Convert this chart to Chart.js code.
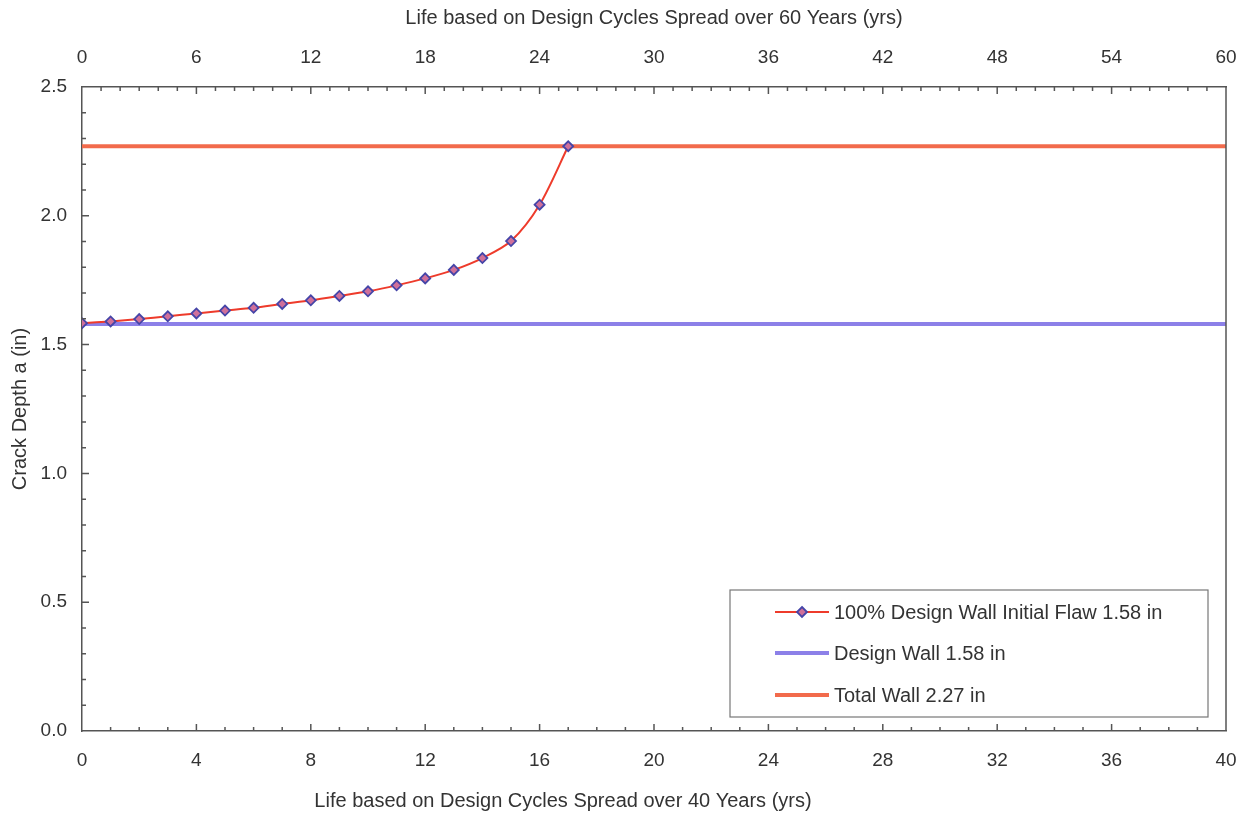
<!DOCTYPE html>
<html>
<head>
<meta charset="utf-8">
<script src="https://cdn.jsdelivr.net/npm/chart.js@4/dist/chart.umd.min.js"></script>
<style>
  body { margin: 0; background: #fff; }
  #wrap { width: 1252px; height: 816px; }
</style>
</head>
<body>
<div id="wrap"><canvas id="chart" width="1252" height="816"></canvas></div>
<script>
// datos
const years40 = [0, 1, 2, 3, 4, 5, 6, 7, 8, 9, 10, 11, 12, 13, 14, 15, 16, 17];
const crackDepth = [1.583, 1.590, 1.599, 1.610, 1.621, 1.632, 1.643, 1.658, 1.672, 1.689,
                    1.707, 1.730, 1.757, 1.790, 1.836, 1.902, 2.043, 2.27];
const wallX = [0, 40];
const designWall = [1.58, 1.58];
const totalWall = [2.27, 2.27];

const labelCurve = '100% Design Wall Initial Flaw 1.58 in';
const labelDesign = 'Design Wall 1.58 in';
const labelTotal = 'Total Wall 2.27 in';

const textColor = '#333';
const axisColor = '#555';
const font = 'Liberation Sans, Arial, sans-serif';

function toPoints(xs, ys) {
    return xs.map((x, i) => ({ x: x, y: ys[i] }));
}

// marcas interiores de los ejes + borde derecho
const innerTicks = {
    id: 'innerTicks',
    afterDraw(chart) {
        const ctx = chart.ctx;
        const a = chart.chartArea;
        const sx = chart.scales.x, sx2 = chart.scales.x2, sy = chart.scales.y;
        ctx.save();
        ctx.strokeStyle = axisColor;
        ctx.lineWidth = 1.5;
        ctx.beginPath();
        for (let v = 1; v < 40; v++) {
            const px = sx.getPixelForValue(v);
            const len = v % 4 === 0 ? 7 : 4;
            ctx.moveTo(px, a.bottom); ctx.lineTo(px, a.bottom - len);
        }
        for (let v = 1; v < 60; v++) {
            const px = sx2.getPixelForValue(v);
            const len = v % 6 === 0 ? 7 : 4;
            ctx.moveTo(px, a.top); ctx.lineTo(px, a.top + len);
        }
        for (let i = 1; i < 25; i++) {
            const py = sy.getPixelForValue(i / 10);
            const len = i % 5 === 0 ? 7 : 4;
            ctx.moveTo(a.left, py); ctx.lineTo(a.left + len, py);
        }
        ctx.moveTo(a.right, a.top); ctx.lineTo(a.right, a.bottom);
        ctx.stroke();

        // titulo inferior
        ctx.fillStyle = textColor;
        ctx.font = '20px ' + font;
        ctx.textAlign = 'center';
        ctx.textBaseline = 'middle';
        ctx.fillText('Life based on Design Cycles Spread over 40 Years (yrs)', 563, 801);
        ctx.restore();
    }
};

// leyenda dentro del area
const boxLegend = {
    id: 'boxLegend',
    afterDraw(chart) {
        const ctx = chart.ctx;
        const x0 = 730, y0 = 590, w = 478, h = 127;
        ctx.save();
        ctx.fillStyle = '#fff';
        ctx.fillRect(x0, y0, w, h);
        ctx.strokeStyle = '#777';
        ctx.lineWidth = 1.2;
        ctx.strokeRect(x0, y0, w, h);
        const rows = [612, 653, 695];
        chart.data.datasets.forEach((ds, i) => {
            const y = rows[i];
            ctx.strokeStyle = ds.borderColor;
            ctx.lineWidth = ds.borderWidth;
            ctx.beginPath();
            ctx.moveTo(775, y); ctx.lineTo(829, y);
            ctx.stroke();
            if (ds.pointRadius > 0) {
                const r = ds.pointRadius;
                ctx.fillStyle = ds.pointBackgroundColor;
                ctx.strokeStyle = ds.pointBorderColor;
                ctx.lineWidth = ds.pointBorderWidth;
                ctx.beginPath();
                ctx.moveTo(802, y - r); ctx.lineTo(802 + r, y);
                ctx.lineTo(802, y + r); ctx.lineTo(802 - r, y);
                ctx.closePath();
                ctx.fill(); ctx.stroke();
            }
            ctx.fillStyle = textColor;
            ctx.font = '20px ' + font;
            ctx.textAlign = 'left';
            ctx.textBaseline = 'middle';
            ctx.fillText(ds.label, 834, y + 1);
        });
        ctx.restore();
    }
};

new Chart(document.getElementById('chart'), {
    type: 'line',
    data: {
        datasets: [
            {
                label: labelCurve,
                data: toPoints(years40, crackDepth),
                borderColor: '#ee3b2b',
                borderWidth: 2,
                pointStyle: 'rectRot',
                pointRadius: 5,
                pointBackgroundColor: '#d0709a',
                pointBorderColor: '#4545a8',
                pointBorderWidth: 1.8,
                tension: 0.3
            },
            {
                label: labelDesign,
                data: toPoints(wallX, designWall),
                borderColor: '#8c80e8',
                borderWidth: 4,
                pointRadius: 0
            },
            {
                label: labelTotal,
                data: toPoints(wallX, totalWall),
                borderColor: '#f26b4c',
                borderWidth: 4,
                pointRadius: 0
            }
        ]
    },
    options: {
        responsive: false,
        animation: false,
        layout: { padding: { left: 0, right: 26, top: 0, bottom: 0 } },
        plugins: { legend: { display: false }, tooltip: { enabled: false } },
        scales: {
            x: {
                type: 'linear',
                position: 'bottom',
                min: 0, max: 40,
                ticks: { stepSize: 4, color: textColor, font: { family: font, size: 19 }, padding: 18 },
                grid: { display: false, drawTicks: false },
                border: { display: true, color: axisColor, width: 1.5 },
                afterFit: s => { s.height = 85; s.paddingRight = 0; s.paddingLeft = 0; }
            },
            x2: {
                type: 'linear',
                position: 'top',
                min: 0, max: 60,
                ticks: { stepSize: 6, color: textColor, font: { family: font, size: 19 }, padding: 18 },
                grid: { display: false, drawTicks: false },
                border: { display: true, color: axisColor, width: 1.5 },
                title: {
                    display: true,
                    text: 'Life based on Design Cycles Spread over 60 Years (yrs)',
                    color: textColor,
                    font: { family: font, size: 20 },
                    padding: { top: 6, bottom: 10 }
                },
                afterFit: s => { s.height = 87; s.paddingRight = 0; s.paddingLeft = 0; }
            },
            y: {
                min: 0, max: 2.5,
                ticks: {
                    stepSize: 0.5, color: textColor, font: { family: font, size: 19 }, padding: 15,
                    callback: v => v.toFixed(1)
                },
                grid: { display: false, drawTicks: false },
                border: { display: true, color: axisColor, width: 1.5 },
                title: {
                    display: true,
                    text: 'Crack Depth a (in)',
                    color: textColor,
                    font: { family: font, size: 20 },
                    padding: { top: 8, bottom: 0 }
                },
                afterFit: s => { s.width = 82; }
            }
        }
    },
    plugins: [innerTicks, boxLegend]
});
</script>
</body>
</html>
